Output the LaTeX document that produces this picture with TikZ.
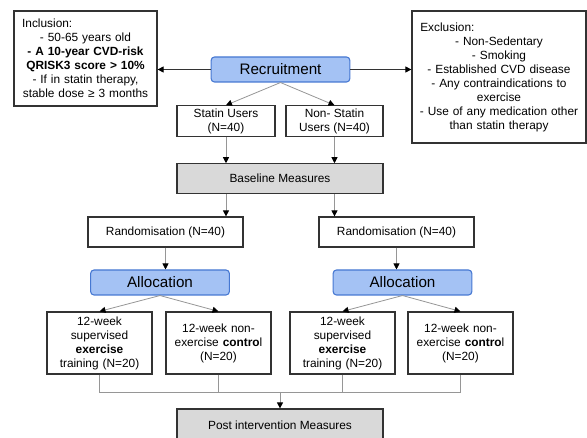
\documentclass[tikz,border=0pt]{standalone}
\usepackage{amsmath}
\usepackage{fontspec}
\setmainfont{Liberation Sans}
\usetikzlibrary{arrows.meta}

\definecolor{boxline}{RGB}{51,51,51}
\definecolor{linkgray}{RGB}{150,150,150}
\definecolor{blueFill}{RGB}{164,194,244}
\definecolor{blueLine}{RGB}{70,120,210}
\definecolor{greyFill}{RGB}{217,217,217}

\tikzset{
  box/.style={draw=boxline, line width=0.9pt, fill=white, inner sep=2pt, align=center,
    font=\fontsize{8.9}{10.5}\selectfont},
  greybox/.style={box, fill=greyFill},
  bluebox/.style={draw=blueLine, line width=0.8pt, fill=blueFill, rounded corners=2.5pt,
    inner sep=2pt, minimum width=104pt, minimum height=18.75pt,
    font=\fontsize{11.4}{13}\selectfont},
  kid/.style={box, minimum width=78.75pt, minimum height=46.5pt, text width=74pt},
  link/.style={draw=linkgray, line width=0.6pt},
  arr/.style={link, -{Triangle[length=4.5pt,width=4.5pt,color=black]}},
  sidearr/.style={draw=boxline, line width=0.6pt, -{Triangle[length=4.5pt,width=4.5pt,color=black]}}
}

\begin{document}
\begin{tikzpicture}[x=0.75pt,y=0.75pt,yscale=-1,xscale=1]
\useasboundingbox (0,0) rectangle (587,438);

% Side boxes
\node [box, minimum width=107.25pt, minimum height=71.25pt, text width=103pt] (incl) at (85.5,58.5)
  {\makebox[\linewidth][l]{\hspace{4pt}Inclusion:}\\- 50-65 years old\\\textbf{- A 10-year CVD-risk}\\\textbf{QRISK3 score > 10\%}\\- If in statin therapy,\\stable dose ≥ 3 months};
\node [box, minimum width=130.5pt, minimum height=99pt, text width=126pt] (excl) at (499,77)
  {\makebox[\linewidth][l]{\hspace{4pt}Exclusion:}\\- Non-Sedentary\\- Smoking\\- Established CVD disease\\- Any contraindications to\\exercise\\- Use of any medication other\\than statin therapy};

% Main column
\node [bluebox] (recr) at (280.5,69.5) {Recruitment};
\node [box, minimum width=73.5pt, minimum height=22.5pt] (statin) at (226,121) {Statin Users\\(N=40)};
\node [box, minimum width=72.75pt, minimum height=22.5pt] (nonstatin) at (334.5,121) {Non- Statin\\Users (N=40)};
\node [greybox, minimum width=154.5pt, minimum height=22pt] (base) at (280,178.5) {Baseline Measures};

\node [box, minimum width=116.25pt, minimum height=22.5pt] (randl) at (165.5,232) {Randomisation (N=40)};
\node [box, minimum width=116.25pt, minimum height=22.5pt] (randr) at (396.5,232) {Randomisation (N=40)};
\node [bluebox] (allocl) at (160,282.5) {Allocation};
\node [bluebox] (allocr) at (402.5,282.5) {Allocation};

% Arms
\node [kid] (exl) at (99.5,343) {12-week\\supervised\\\textbf{exercise}\\training (N=20)};
\node [kid] (conl) at (218.5,343) {12-week non-\\exercise \textbf{contro}l\\(N=20)};
\node [kid] (exr) at (342.5,343) {12-week\\supervised\\\textbf{exercise}\\training (N=20)};
\node [kid] (conr) at (460.5,343) {12-week non-\\exercise \textbf{contro}l\\(N=20)};

\node [greybox, minimum width=154.5pt, minimum height=24pt] (post) at (280,425) {Post intervention Measures};

% Connectors
\draw [sidearr] (recr.west) -- (recr.west -| incl.east);
\draw [sidearr] (recr.east) -- (recr.east -| excl.west);
\draw [arr] (recr.south) -- (statin.north);
\draw [arr] (recr.south) -- (nonstatin.north);
\draw [arr] (statin.south) -- (statin.south |- base.north);
\draw [arr] (nonstatin.south) -- (nonstatin.south |- base.north);
\draw [arr] (statin.south |- base.south) -- (statin.south |- randl.north);
\draw [arr] (nonstatin.south |- base.south) -- (nonstatin.south |- randr.north);
\draw [arr] (randl.south) -- (randl.south |- allocl.north);
\draw [arr] (randr.south) -- (randr.south |- allocr.north);
\draw [arr] (allocl.south) -- (exl.north);
\draw [arr] (allocl.south) -- (conl.north);
\draw [arr] (allocr.south) -- (exr.north);
\draw [arr] (allocr.south) -- (conr.north);

\coordinate (jn) at (280,392);
\draw [link] (exl.south) -- (exl.south |- jn) -- (conr.south |- jn) -- (conr.south);
\draw [link] (conl.south) -- (conl.south |- jn);
\draw [link] (exr.south) -- (exr.south |- jn);
\draw [arr] (jn) -- (post.north);

\end{tikzpicture}
\end{document}
